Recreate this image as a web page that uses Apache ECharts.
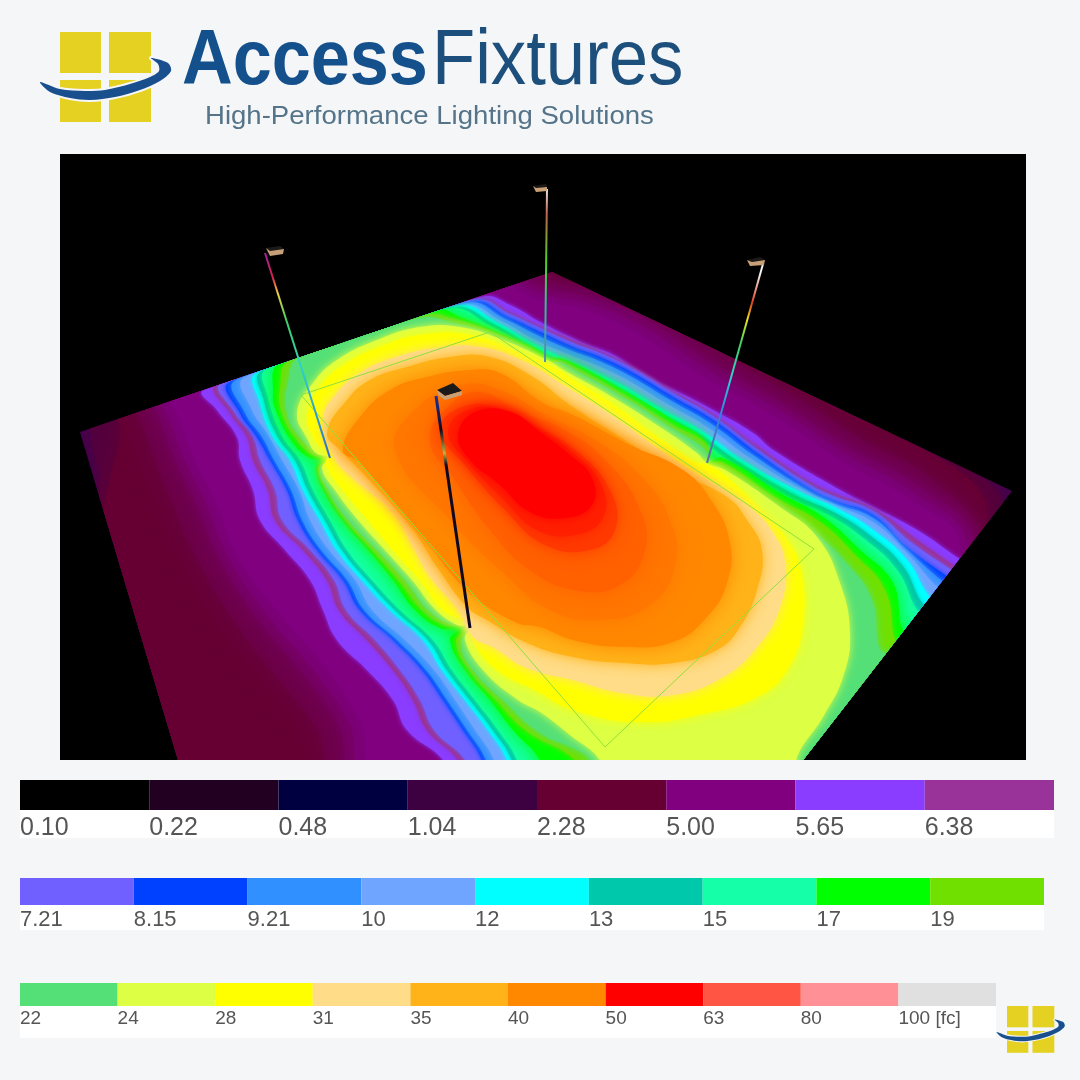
<!DOCTYPE html>
<html>
<head>
<meta charset="utf-8">
<title>Access Fixtures false colour plot</title>
<script src="https://cdn.jsdelivr.net/npm/echarts@6/dist/echarts.min.js"></script>
<style>
  html, body { margin: 0; padding: 0; background: #f4f6f8; }
  #chart { width: 1080px; height: 1080px; }
</style>
</head>
<body>
<div id="chart"></div>
<script>
// legend strips
const scaleColors1 = ["#000000", "#220022", "#000040", "#3d0040", "#660033", "#800080", "#8a3cff", "#993399"];
const scaleLabels1 = ["0.10", "0.22", "0.48", "1.04", "2.28", "5.00", "5.65", "6.38"];
const scaleColors2 = ["#7060ff", "#0040ff", "#3090ff", "#70a5ff", "#00ffff", "#00c8aa", "#14ffa8", "#00ff00", "#70e000"];
const scaleLabels2 = ["7.21", "8.15", "9.21", "10", "12", "13", "15", "17", "19"];
const scaleColors3 = ["#55e077", "#ddff44", "#ffff00", "#ffdc88", "#ffb319", "#ff8800", "#ff0000", "#ff5544", "#ff9095", "#e0e0e0"];
const scaleLabels3 = ["22", "24", "28", "31", "35", "40", "50", "63", "80", "100 [fc]"];

// ground plane outline (plot units = picture pixels)
const ground = [[80, 432], [552, 272], [1012, 491], [803, 760], [178, 760]];

// iso-lines, outermost first
const lvlGround = [[70, 440], [552, 262], [1022, 491], [803, 775], [170, 775]];
const lvlDark = [[95, 410], [92, 440], [100, 480], [100, 520], [172, 775], [890, 775], [1000, 535], [985, 480], [620, 290], [545, 262]];
const lvlMaroon = [[125, 400], [120, 440], [110, 480], [105, 520], [170, 775], [870, 775], [985, 530], [950, 465], [610, 300], [545, 272]];
const lvlP0 = [[130, 400], [140, 420], [155, 460], [175, 510], [200, 565], [240, 630], [275, 675], [318, 730], [338, 775], [975, 775], [985, 550], [935, 482], [862, 440], [800, 400], [720, 352], [660, 310], [610, 292], [550, 280], [490, 255]];
const lvlP1 = [[150, 392], [160, 420], [175, 460], [195, 500], [220, 560], [262, 625], [298, 668], [338, 725], [358, 775], [965, 775], [975, 545], [925, 490], [850, 448], [790, 408], [710, 362], [650, 322], [600, 300], [545, 288], [480, 265]];
const lvlP2 = [[160, 388], [170, 420], [185, 460], [205, 500], [230, 560], [273, 622], [309, 664], [349, 722], [369, 775], [957, 775], [967, 545], [917, 495], [845, 454], [785, 414], [705, 368], [645, 328], [595, 306], [542, 294], [480, 272]];
const lvlPurple = [[170, 385], [180, 420], [195, 460], [215, 500], [240, 560], [285, 620], [320, 660], [360, 720], [380, 775], [950, 775], [960, 545], [910, 500], [840, 460], [780, 420], [700, 375], [640, 335], [590, 312], [540, 300], [480, 280]];
const lvl565 = [[204, 390], [217, 410], [237, 437], [240, 460], [253, 490], [260, 520], [285, 550], [310, 580], [323, 610], [337, 640], [367, 670], [393, 700], [407, 730], [443, 760], [443, 775], [800, 775], [966, 563], [958, 558], [917, 530], [873, 507], [840, 490], [773, 450], [753, 433], [713, 410], [680, 393], [643, 377], [617, 357], [583, 343], [540, 322], [510, 305], [482, 297]];
const lvl638 = [[217, 385], [230, 413], [247, 437], [253, 460], [268, 490], [275, 520], [303, 550], [327, 580], [339, 610], [367, 640], [393, 670], [413, 700], [427, 730], [458, 760], [458, 775], [800, 775], [961, 570], [953, 565], [917, 540], [873, 508], [833, 493], [807, 480], [757, 446], [713, 414], [673, 391], [633, 367], [600, 351], [573, 340], [540, 326], [510, 312], [478, 299]];
const lvl721 = [[222, 383], [235, 413], [253, 437], [260, 460], [275, 490], [282, 520], [310, 550], [334, 580], [346, 610], [375, 640], [400, 670], [420, 700], [434, 730], [465, 760], [465, 775], [800, 775], [958, 574], [950, 569], [912, 543], [873, 511], [833, 496], [807, 483], [757, 449], [713, 416], [673, 393], [633, 369], [600, 353], [573, 343], [540, 328], [510, 314], [475, 300]];
const lvl815 = [[230, 382], [240, 413], [257, 437], [270, 460], [287, 490], [298, 520], [317, 550], [343, 580], [360, 610], [393, 640], [422, 670], [443, 700], [463, 730], [482, 760], [482, 775], [800, 775], [953, 580], [945, 575], [907, 547], [873, 515], [833, 500], [807, 487], [757, 453], [713, 420], [673, 397], [633, 373], [600, 357], [573, 347], [540, 332], [510, 318], [470, 302]];
const lvl921 = [[236, 380], [245, 413], [262, 437], [274, 460], [291, 490], [302, 520], [321, 550], [347, 580], [364, 610], [397, 640], [426, 670], [447, 700], [467, 730], [486, 760], [486, 775], [800, 775], [949, 585], [941, 580], [907, 550], [873, 518], [833, 503], [805, 489], [753, 455], [710, 423], [670, 400], [630, 376], [597, 360], [570, 350], [537, 335], [507, 320], [466, 303]];
const lvl10 = [[245, 377], [252, 410], [267, 433], [282, 460], [299, 490], [310, 520], [329, 550], [355, 580], [372, 610], [405, 640], [434, 670], [455, 700], [475, 730], [494, 760], [494, 775], [800, 775], [943, 590], [935, 585], [907, 553], [873, 522], [835, 505], [803, 490], [750, 458], [707, 427], [667, 404], [627, 380], [593, 364], [567, 354], [533, 339], [503, 322], [462, 305]];
const lvl12 = [[257, 373], [260, 403], [273, 437], [290, 460], [303, 490], [320, 520], [337, 550], [362, 580], [390, 610], [423, 640], [442, 670], [465, 700], [488, 730], [507, 760], [507, 775], [800, 775], [936, 600], [928, 595], [907, 560], [873, 530], [840, 510], [800, 492], [745, 462], [703, 432], [663, 410], [623, 386], [590, 370], [565, 359], [530, 342], [498, 323], [458, 306]];
const lvl13 = [[262, 371], [264, 400], [278, 437], [295, 460], [308, 490], [325, 520], [342, 550], [367, 580], [395, 610], [428, 640], [447, 670], [470, 700], [493, 730], [512, 760], [512, 775], [800, 775], [930, 608], [922, 603], [902, 565], [868, 534], [835, 513], [795, 495], [740, 463], [700, 435], [660, 413], [620, 389], [587, 373], [562, 362], [527, 344], [495, 325], [452, 308]];
const lvl15 = [[267, 369], [268, 397], [283, 437], [300, 460], [313, 490], [330, 520], [347, 550], [372, 580], [400, 610], [433, 640], [452, 670], [475, 700], [498, 730], [517, 760], [517, 775], [800, 775], [925, 615], [917, 610], [897, 570], [863, 538], [830, 516], [790, 498], [735, 465], [697, 438], [657, 416], [617, 392], [584, 376], [560, 365], [525, 346], [492, 327], [448, 309]];
const lvl17 = [[280, 363], [273, 393], [277, 413], [293, 443], [310, 458], [322, 460], [316, 468], [323, 490], [342, 520], [368, 550], [393, 580], [415, 610], [440, 628], [458, 630], [450, 640], [465, 670], [490, 700], [513, 730], [540, 760], [540, 775], [800, 775], [915, 625], [903, 630], [893, 583], [860, 550], [823, 517], [780, 493], [722, 458], [708, 462], [706, 442], [673, 420], [623, 390], [573, 363], [556, 358], [546, 361], [543, 353], [510, 337], [460, 317], [437, 310]];
const lvl19 = [[290, 360], [280, 390], [282, 413], [297, 440], [313, 455], [326, 459], [318, 468], [326, 490], [345, 520], [372, 550], [398, 580], [422, 610], [444, 625], [463, 628], [456, 642], [469, 670], [496, 700], [525, 730], [575, 760], [575, 775], [800, 775], [900, 640], [895, 640], [885, 590], [855, 555], [820, 522], [775, 497], [722, 462], [708, 463], [707, 445], [673, 425], [623, 394], [573, 366], [558, 360], [546, 362], [540, 354], [505, 337], [455, 319], [423, 315]];
const lvl22 = [[300, 357], [288, 383], [287, 413], [300, 437], [320, 455], [330, 458], [320, 468], [328, 490], [348, 520], [377, 550], [405, 580], [428, 610], [450, 624], [468, 627], [461, 645], [473, 670], [503, 700], [540, 733], [577, 750], [590, 760], [590, 775], [800, 775], [890, 655], [880, 650], [872, 600], [848, 565], [812, 530], [770, 500], [720, 467], [708, 464], [705, 450], [673, 429], [623, 397], [573, 369], [559, 362], [546, 363], [537, 355], [500, 337], [450, 322], [420, 318]];
const lvl24 = [[297, 413], [313, 383], [337, 360], [377, 340], [420, 327], [460, 327], [503, 340], [547, 360], [565, 371], [607, 394], [657, 425], [697, 453], [707, 463], [725, 470], [780, 507], [817, 537], [840, 583], [850, 633], [843, 677], [823, 717], [797, 757], [797, 775], [600, 775], [600, 760], [570, 735], [540, 712], [518, 700], [483, 670], [465, 640], [469, 627], [457, 625], [436, 610], [412, 580], [385, 550], [358, 520], [335, 490], [322, 468], [330, 458], [316, 453], [308, 440]];
const lvl28 = [[308, 413], [323, 383], [347, 363], [380, 347], [420, 335], [470, 335], [520, 353], [553, 367], [573, 380], [607, 400], [657, 437], [695, 462], [708, 465], [730, 480], [773, 523], [787, 540], [800, 567], [803, 623], [787, 670], [757, 697], [707, 713], [640, 722], [573, 710], [535, 690], [497, 670], [472, 640], [468, 625], [443, 610], [420, 580], [393, 550], [368, 520], [343, 490], [326, 465], [327, 455], [313, 437]];
const lvl31 = [[323, 420], [337, 393], [360, 373], [393, 358], [437, 348], [480, 347], [527, 363], [560, 383], [607, 412], [660, 450], [690, 470], [720, 487], [753, 510], [773, 533], [785, 563], [780, 607], [757, 647], [723, 677], [673, 695], [623, 693], [573, 680], [527, 668], [493, 647], [473, 637], [458, 610], [430, 577], [413, 547], [393, 513], [347, 473], [333, 455]];
const lvl35 = [[327, 433], [347, 400], [370, 380], [407, 367], [450, 357], [490, 357], [533, 377], [570, 405], [620, 437], [672, 470], [727, 497], [747, 520], [762, 550], [757, 590], [740, 627], [717, 650], [673, 663], [623, 663], [573, 657], [527, 643], [487, 620], [467, 607], [437, 567], [413, 530], [360, 470], [340, 450]];
const lvl40 = [[343, 450], [360, 417], [390, 390], [427, 377], [470, 370], [500, 373], [543, 403], [573, 415], [630, 445], [683, 470], [713, 503], [730, 543], [727, 583], [707, 617], [673, 642], [623, 647], [573, 640], [540, 627], [517, 623], [470, 593], [427, 543], [360, 463]];
const lvl42 = [[395, 450], [415, 410], [460, 385], [500, 390], [545, 415], [595, 440], [640, 475], [670, 520], [675, 565], [650, 605], [600, 620], [550, 610], [500, 570], [450, 520]];
const lvl44 = [[430, 440], [450, 405], [480, 392], [520, 412], [565, 430], [610, 465], [640, 510], [645, 550], [620, 585], [575, 590], [530, 570], [490, 530], [455, 480]];
const lvl47 = [[440, 430], [462, 407], [500, 408], [535, 425], [575, 450], [610, 490], [615, 530], [590, 550], [545, 545], [505, 510], [465, 465]];
const lvl48 = [[448, 432], [468, 410], [505, 410], [538, 428], [572, 452], [601, 484], [603, 518], [575, 535], [537, 530], [502, 498], [468, 462]];
const lvl50 = [[458, 435], [475, 412], [510, 412], [540, 432], [570, 455], [592, 478], [592, 505], [565, 518], [530, 512], [500, 485], [470, 460]];

const levels = [lvlGround, lvlDark, lvlMaroon, lvlP0, lvlP1, lvlP2, lvlPurple, lvl565, lvl638, lvl721, lvl815, lvl921, lvl10, lvl12, lvl13, lvl15, lvl17, lvl19, lvl22, lvl24, lvl28, lvl31, lvl35, lvl40, lvl42, lvl44, lvl47, lvl48, lvl50];
const levelColors = ["#430050", "#52003f", "#660033", "#6c0046", "#730059", "#790070", "#800080", "#8a3cff", "#993399", "#7060ff", "#0040ff", "#3090ff", "#70a5ff", "#00ffff", "#00c8aa", "#14ffa8", "#00ff00", "#70e000", "#55e077", "#ddff44", "#ffff00", "#ffdc88", "#ffb319", "#ff8800", "#ff7600", "#ff6000", "#ff3a00", "#ff2000", "#ff0000"];
const levelBlur = [0, 30, 30, 30, 30, 25, 25, 4, 4, 4, 4, 7, 8, 4, 4, 4, 18, 6, 8, 8, 10, 12, 14, 18, 22, 20, 16, 14, 12];

// calculation area outline
const targetArea = [[301, 395], [490, 332], [814, 549], [605, 747], [301, 395]];

// poles: base then top, with the false colour read up each one
const poleA = [[330, 458], [265, 253]];
const poleB = [[545, 362], [547, 189]];
const poleC = [[707, 463], [763, 264]];
const poleD = [[470, 628], [436, 396]];
const poles = [poleA, poleB, poleC, poleD];
const poleColors = [
  ["#3070d0", "#30d0c8", "#40d060", "#f0d040", "#d02050", "#a020a0"],
  ["#5090b0", "#30c090", "#50d020", "#c06050", "#e8e8e8"],
  ["#6070a0", "#3080e0", "#30d0d0", "#40d060", "#f0e020", "#e04020", "#f4f4f4"],
  ["#100820", "#100820", "#c0b040", "#100820", "#2030a0"]
];
const poleOffsets = [
  [0.03, 0.44, 0.67, 0.8, 0.88, 1],
  [0.07, 0.32, 0.59, 0.85, 1],
  [0.03, 0.25, 0.43, 0.6, 0.72, 0.8, 0.95],
  [0, 0.7, 0.75, 0.85, 1]
];

// luminaire heads
const headA = [[[266, 248], [280, 246], [284, 249], [270, 251]], [[266, 248], [270, 251], [284, 249], [283, 254], [270, 256]]];
const headB = [[[533, 186], [546, 184], [547, 187], [536, 188]], [[533, 186], [536, 188], [547, 187], [547, 191], [536, 192]]];
const headC = [[[747, 260], [760, 257], [765, 260], [752, 262]], [[747, 260], [752, 262], [765, 260], [764, 265], [750, 266]]];
const headD = [[[437, 390], [453, 383], [462, 391], [445, 396]], [[437, 390], [445, 396], [462, 391], [462, 395], [445, 400], [438, 395]]];
const heads = [headA, headB, headC, headD];

const pageColor = "#f4f6f8";
const swoosh = [[40, 82], [50, 92], [70, 98], [90, 100], [115, 97], [140, 90], [160, 81], [171, 71], [168, 63], [151, 58], [158, 64], [159, 71], [150, 77], [130, 84], [105, 90], [85, 91], [60, 89]];

function logoMark(x, y, scale) {
  const square = (left, top, w, h) => ({
    type: "rect",
    shape: { x: left, y: top, width: w, height: h },
    style: { fill: "#e5d122" },
  });
  return {
    type: "group",
    x,
    y,
    scaleX: scale,
    scaleY: scale,
    children: [
      square(60, 32, 41, 41),
      square(109, 32, 42, 41),
      square(60, 80, 41, 42),
      square(109, 80, 42, 42),
      {
        type: "polygon",
        shape: { points: swoosh, smooth: 0.3 },
        style: { fill: "#1a4f8e", stroke: pageColor, lineWidth: 4, strokeFirst: true },
      },
    ],
  };
}

function whiteStrip(left, top, width, height) {
  return {
    type: "rect",
    z: -1,
    shape: { x: left, y: top, width, height },
    style: { fill: "#ffffff" },
  };
}

function scaleSeries(index, colors) {
  return {
    type: "custom",
    xAxisIndex: index,
    yAxisIndex: index,
    data: colors.map((_, i) => [i]),
    silent: true,
    renderItem(params, api) {
      const i = api.value(0);
      const a = api.coord([i, 1]);
      const b = api.coord([i + 1, 0]);
      return {
        type: "rect",
        shape: { x: a[0], y: a[1], width: b[0] - a[0], height: b[1] - a[1] },
        style: { fill: colors[i] },
      };
    },
  };
}

function scaleAxis(index, labels, fontSize, margin) {
  return {
    type: "value",
    gridIndex: index,
    min: 0,
    max: labels.length,
    interval: 1,
    axisLine: { show: false },
    axisTick: { show: false },
    splitLine: { show: false },
    axisLabel: {
      align: "left",
      margin,
      fontSize,
      color: "#555555",
      fontFamily: "Liberation Sans",
      formatter: (v) => labels[v] || "",
    },
  };
}

function hiddenY(index) {
  return { type: "value", gridIndex: index, min: 0, max: 1, show: false };
}

const chart = echarts.init(document.getElementById("chart"));

chart.setOption({
  backgroundColor: pageColor,
  animation: false,
  grid: [
    { left: 60, top: 154, width: 966, height: 606, show: true, backgroundColor: "#000000", borderWidth: 0 },
    { left: 20, top: 780, width: 1034, height: 30 },
    { left: 20, top: 878, width: 1024, height: 27 },
    { left: 20, top: 983, width: 976, height: 23 },
  ],
  xAxis: [
    { type: "value", gridIndex: 0, min: 60, max: 1026, show: false },
    scaleAxis(1, scaleLabels1, 25, 6),
    scaleAxis(2, scaleLabels2, 22, 4),
    scaleAxis(3, scaleLabels3, 19, 3),
  ],
  yAxis: [
    { type: "value", gridIndex: 0, min: 154, max: 760, inverse: true, show: false },
    hiddenY(1),
    hiddenY(2),
    hiddenY(3),
  ],
  graphic: [
    whiteStrip(20, 810, 1034, 28),
    whiteStrip(20, 905, 1024, 25),
    whiteStrip(20, 1006, 976, 32),
    {
      type: "text",
      x: 182,
      y: 23,
      scaleX: 0.9,
      style: { text: "Access", fontFamily: "Liberation Sans", fontWeight: "bold", fontSize: 78, fill: "#14508c" },
    },
    {
      type: "text",
      x: 432,
      y: 23,
      scaleX: 0.906,
      style: { text: "Fixtures", fontFamily: "Liberation Sans", fontSize: 78, fill: "#1d4f7c" },
    },
    {
      type: "text",
      x: 205,
      y: 104,
      scaleX: 1.06,
      style: { text: "High-Performance Lighting Solutions", fontFamily: "Liberation Sans", fontSize: 26, fill: "#557489" },
    },
    logoMark(0, 0, 1),
    logoMark(1007 - 60 * 0.52, 1006 - 32 * 0.52, 0.52),
  ],
  series: [
    {
      type: "custom",
      xAxisIndex: 0,
      yAxisIndex: 0,
      silent: true,
      clip: true,
      data: levels.map((_, i) => [i]),
      renderItem(params, api) {
        const i = api.value(0);
        const points = levels[i].map((p) => api.coord(p));
        return {
          type: "group",
          clipPath: { type: "polygon", shape: { points: ground.map((p) => api.coord(p)) } },
          children: [
            {
              type: "polygon",
              shape: { points, smooth: 0.45, smoothConstraint: false },
              style: {
                fill: levelColors[i],
                shadowColor: levelColors[i],
                shadowBlur: levelBlur[i],
              },
            },
          ],
        };
      },
    },
    {
      type: "custom",
      xAxisIndex: 0,
      yAxisIndex: 0,
      silent: true,
      data: [[0]],
      renderItem(params, api) {
        return {
          type: "polyline",
          shape: { points: targetArea.map((p) => api.coord(p)) },
          style: { fill: "none", stroke: "#8fe03c", lineWidth: 1 },
        };
      },
    },
    {
      type: "custom",
      xAxisIndex: 0,
      yAxisIndex: 0,
      silent: true,
      data: poles.map((_, i) => [i]),
      renderItem(params, api) {
        const i = api.value(0);
        const stops = poleColors[i].map((color, k) => ({ offset: poleOffsets[i][k], color }));
        const [base, top] = poles[i];
        return {
          type: "group",
          children: [
            {
              type: "line",
              shape: {
                x1: api.coord(base)[0],
                y1: api.coord(base)[1],
                x2: api.coord(top)[0],
                y2: api.coord(top)[1],
              },
              style: {
                stroke: new echarts.graphic.LinearGradient(0, 1, 0, 0, stops),
                lineWidth: i === 3 ? 3 : 2,
              },
            },
            ...heads[i].map((face, k) => ({
              type: "polygon",
              shape: { points: face.map((p) => api.coord(p)) },
              style: { fill: k === 0 ? "#1c1a18" : "#c8a078" },
            })),
          ],
        };
      },
    },
    scaleSeries(1, scaleColors1),
    scaleSeries(2, scaleColors2),
    scaleSeries(3, scaleColors3),
  ],
});
</script>
</body>
</html>
